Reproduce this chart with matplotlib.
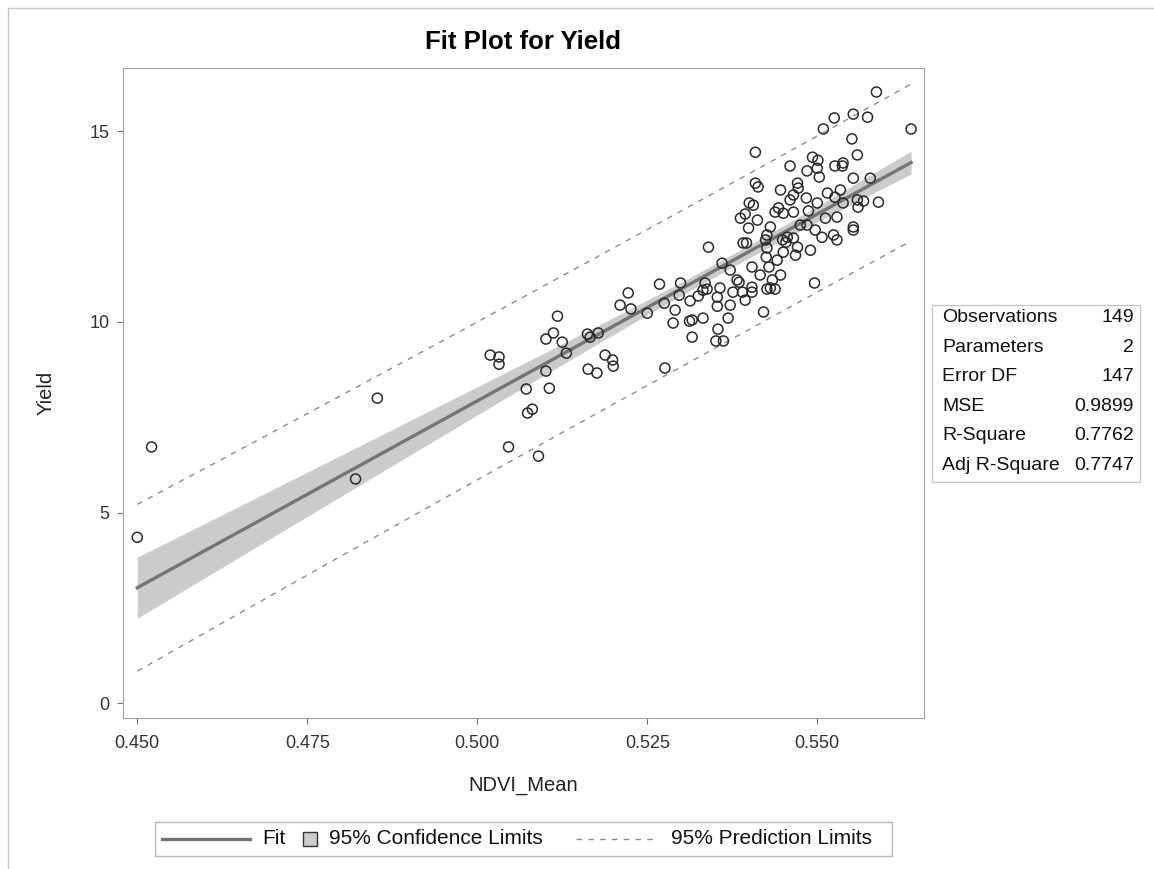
import numpy as np
import matplotlib
matplotlib.use("Agg")
from matplotlib import pyplot as plt
from matplotlib.lines import Line2D
from matplotlib.patches import Rectangle

plt.rcParams['font.family'] = ['Liberation Sans', 'DejaVu Sans']

# NDVI_Mean vs Yield
ndvi = [0.4500, 0.4521, 0.4853, 0.4821, 0.5019, 0.5032, 0.5032, 0.5046, 0.5074, 0.5081,
        0.5072, 0.5090, 0.5101, 0.5101, 0.5106, 0.5112, 0.5118, 0.5125, 0.5131, 0.5162,
        0.5166, 0.5178, 0.5163, 0.5176, 0.5188, 0.5199, 0.5200, 0.5210, 0.5222, 0.5226,
        0.5250, 0.5268, 0.5275, 0.5276, 0.5288, 0.5291, 0.5299, 0.5297, 0.5312, 0.5313,
        0.5316, 0.5325, 0.5332, 0.5335, 0.5340, 0.5353, 0.5353, 0.5357, 0.5372, 0.5354,
        0.5351, 0.5362, 0.5376, 0.5382, 0.5372, 0.5360, 0.5391, 0.5390, 0.5396, 0.5426,
        0.5425, 0.5429, 0.5441, 0.5450, 0.5454, 0.5465, 0.5471, 0.5507, 0.5524, 0.5529,
        0.5553, 0.5404, 0.5385, 0.5434, 0.5431, 0.5438, 0.5426, 0.5404, 0.5404, 0.5338,
        0.5316, 0.5421, 0.5496, 0.5587, 0.5553, 0.5574, 0.5525, 0.5509, 0.5638, 0.5551,
        0.5409, 0.5559, 0.5493, 0.5501, 0.5500, 0.5485, 0.5460, 0.5503, 0.5526, 0.5538,
        0.5553, 0.5578, 0.5409, 0.5413, 0.5446, 0.5471, 0.5472, 0.5465, 0.5460, 0.5484,
        0.5515, 0.5526, 0.5400, 0.5406, 0.5443, 0.5438, 0.5450, 0.5465, 0.5487, 0.5500,
        0.5538, 0.5559, 0.5568, 0.5560, 0.5590, 0.5387, 0.5394, 0.5412, 0.5399, 0.5431,
        0.5426, 0.5485, 0.5512, 0.5529, 0.5553, 0.5456, 0.5449, 0.5424, 0.5537, 0.5468,
        0.5490, 0.5416, 0.5394, 0.5369, 0.5332, 0.5446, 0.5475, 0.5497, 0.5534]
yield_ = [4.35, 6.72, 8.00, 5.88, 9.13, 9.08, 8.89, 6.72, 7.61, 7.71,
          8.24, 6.48, 9.55, 8.71, 8.26, 9.71, 10.15, 9.47, 9.18, 9.68,
          9.60, 9.71, 8.76, 8.66, 9.13, 9.00, 8.84, 10.44, 10.76, 10.34,
          10.23, 10.99, 10.49, 8.79, 9.97, 10.31, 11.02, 10.70, 10.02, 10.55,
          9.60, 10.68, 10.83, 11.02, 11.96, 10.41, 10.65, 10.89, 10.44, 9.81,
          9.50, 9.50, 10.78, 11.10, 11.36, 11.54, 12.07, 10.78, 12.07, 11.94,
          11.70, 11.44, 11.62, 11.83, 12.09, 12.20, 11.96, 12.22, 12.28, 12.15,
          12.41, 11.44, 11.04, 11.10, 10.89, 10.86, 10.86, 10.91, 10.78, 10.86,
          10.05, 10.26, 11.02, 16.03, 15.45, 15.37, 15.35, 15.06, 15.06, 14.80,
          14.45, 14.38, 14.32, 14.24, 14.03, 13.96, 14.09, 13.80, 14.09, 14.17,
          13.77, 13.77, 13.64, 13.54, 13.46, 13.64, 13.51, 13.33, 13.20, 13.25,
          13.38, 13.27, 13.12, 13.06, 12.99, 12.88, 12.85, 12.88, 12.91, 13.12,
          13.12, 13.20, 13.17, 13.01, 13.14, 12.72, 12.83, 12.67, 12.46, 12.49,
          12.28, 12.54, 12.72, 12.75, 12.49, 12.22, 12.15, 12.15, 14.09, 11.75,
          11.88, 11.23, 10.57, 10.10, 10.10, 11.23, 12.54, 12.41, 13.46]

stat_names = ['Observations', 'Parameters', 'Error DF', 'MSE', 'R-Square', 'Adj R-Square']
stat_values = ['149', '2', '147', '0.9899', '0.7762', '0.7747']

x = np.array(ndvi)
y = np.array(yield_)
n = len(x)

# simple linear regression with 95% limits
b1, b0 = np.polyfit(x, y, 1)
resid = y - (b0 + b1 * x)
mse = np.sum(resid ** 2) / (n - 2)
xbar = x.mean()
sxx = np.sum((x - xbar) ** 2)
t = 1.9762  # t(0.975, 147)
xs = np.linspace(x.min(), x.max(), 200)
fit = b0 + b1 * xs
se_mean = np.sqrt(mse * (1 / n + (xs - xbar) ** 2 / sxx))
se_pred = np.sqrt(mse * (1 + 1 / n + (xs - xbar) ** 2 / sxx))

W, H = 1154, 869
fig = plt.figure(figsize=(W / 100, H / 100), dpi=100)
ax = fig.add_axes([123 / W, 1 - 718 / H, (924 - 123) / W, (718 - 68) / H])

fit_col = '#747474'
band_col = '#cbcbcb'
dash_col = '#8c8c8c'
dash = (0, (4, 4.5))

ax.fill_between(xs, fit - t * se_mean, fit + t * se_mean, color=band_col, lw=0, zorder=1)
ax.plot(xs, fit, color=fit_col, lw=2.4, zorder=2)
ax.plot(xs, fit - t * se_pred, color=dash_col, lw=1, ls=dash, zorder=2)
ax.plot(xs, fit + t * se_pred, color=dash_col, lw=1, ls=dash, zorder=2)
ax.scatter(x, y, s=52, facecolors='none', edgecolors='#2a2a2a', linewidths=1.1, zorder=3)

ax.set_xlim(0.4479, 0.5657)
ax.set_ylim(-0.39, 16.66)
ax.set_xticks([0.450, 0.475, 0.500, 0.525, 0.550])
ax.set_xticklabels(['0.450', '0.475', '0.500', '0.525', '0.550'])
ax.set_yticks([0, 5, 10, 15])
for s in ax.spines.values():
    s.set_color('#a0a0a0')
ax.tick_params(colors='#333333', labelsize=13, length=4.5, color='#707070')
ax.tick_params(axis='x', pad=8)
ax.tick_params(axis='y', pad=5)
ax.set_xlabel('NDVI_Mean', fontsize=14.5, color='#222222')
ax.set_ylabel('Yield', fontsize=14.5, color='#222222')
ax.xaxis.set_label_coords(0.5, -(776 - 718) / 650)
ax.yaxis.set_label_coords(-(123 - 56) / 801, 0.5)
fig.text(523 / W, 1 - 42 / H, 'Fit Plot for Yield', fontsize=18.5, fontweight='bold',
         ha='center', va='center')

# statistics box
fig.add_artist(Rectangle((932 / W, 1 - 482 / H), 208 / W, 177 / H,
                         transform=fig.transFigure, fill=False, edgecolor='#c8c8c8', lw=1))
for i, (name, val) in enumerate(zip(stat_names, stat_values)):
    yy = 1 - (318 + i * 29.4) / H
    fig.text(942 / W, yy, name, fontsize=14, va='center', ha='left', color='#111111')
    fig.text(1134 / W, yy, val, fontsize=14, va='center', ha='right', color='#111111')

# legend, laid out by hand
ly = 1 - 839 / H
fig.add_artist(Rectangle((155 / W, 1 - 856 / H), (892 - 155) / W, 34 / H,
                         transform=fig.transFigure, fill=False, edgecolor='#b8b8b8', lw=1))
fig.add_artist(Line2D([162 / W, 250 / W], [ly, ly], transform=fig.transFigure,
                      color=fit_col, lw=2.4))
fig.text(262 / W, ly, 'Fit', fontsize=15, va='center', ha='left', color='#111111')
fig.add_artist(Rectangle((303 / W, 1 - 846 / H), 14 / W, 14 / H, transform=fig.transFigure,
                         facecolor=band_col, edgecolor='#333333', lw=1))
fig.text(329 / W, ly, '95% Confidence Limits', fontsize=15, va='center', ha='left',
         color='#111111')
fig.add_artist(Line2D([576 / W, 656 / W], [ly, ly], transform=fig.transFigure,
                      color=dash_col, lw=1, ls=dash))
fig.text(671 / W, ly, '95% Prediction Limits', fontsize=15, va='center', ha='left',
         color='#111111')

# outer border lines
fig.add_artist(Line2D([8 / W, 8 / W], [0, 1 - 8 / H], transform=fig.transFigure,
                      color='#c8c8c8', lw=1))
fig.add_artist(Line2D([8 / W, 1], [1 - 8 / H, 1 - 8 / H], transform=fig.transFigure,
                      color='#c8c8c8', lw=1))

fig.savefig('out.png', dpi=100)
